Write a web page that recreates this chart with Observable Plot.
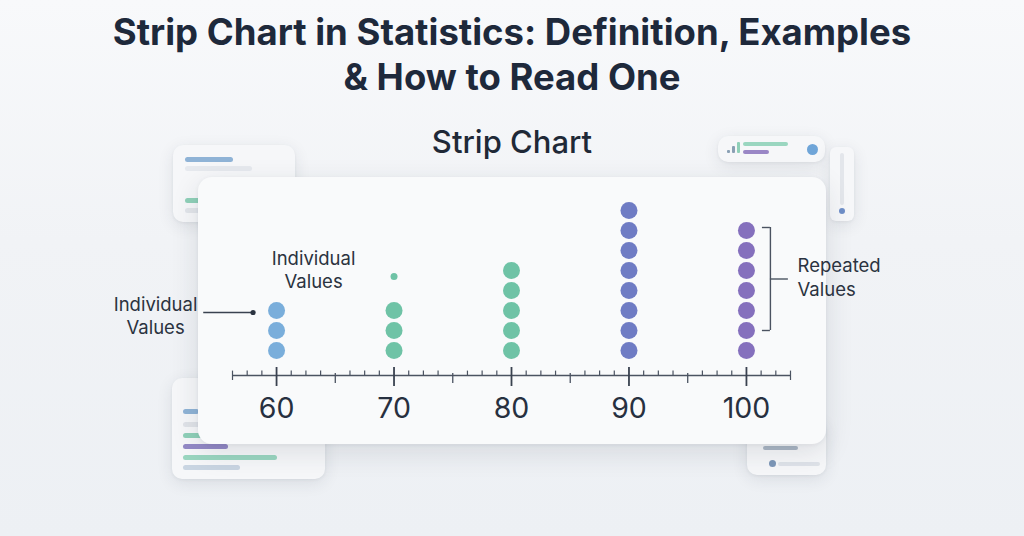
<!DOCTYPE html>
<html>
<head>
<meta charset="utf-8">
<script src="https://cdn.jsdelivr.net/npm/d3@7"></script>
<script src="https://cdn.jsdelivr.net/npm/@observablehq/plot@0.6"></script>
<style>
  html, body { margin: 0; padding: 0; }
  body {
    width: 1024px; height: 536px; overflow: hidden;
    background: linear-gradient(180deg, #f8f9fb 0%, #f1f3f6 45%, #edf0f4 100%);
    font-family: Inter, "Noto Sans", sans-serif;
    position: relative;
  }
  .title {
    position: absolute; left: 0; top: 10px; width: 1024px;
    text-align: center; font-weight: 700; font-size: 36.5px; line-height: 45px;
    color: #1e293b; margin: 0;
  }
  .subtitle {
    position: absolute; left: 0; top: 123px; width: 1024px;
    text-align: center; font-weight: 500; font-size: 31px; line-height: 38px;
    color: #1f2937; margin: 0;
  }
  .deco {
    position: absolute; background: #f6f7f9; border-radius: 10px;
    box-shadow: 0 4px 16px rgba(40,50,70,0.10), 0 1px 3px rgba(40,50,70,0.06);
  }
  .bar { position: absolute; border-radius: 3px; }
  .card {
    position: absolute; left: 198px; top: 177px; width: 628px; height: 267px;
    background: #f9fafb; border-radius: 14px;
    box-shadow: 0 8px 28px rgba(30,40,60,0.12), 0 1px 4px rgba(30,40,60,0.06);
  }
  #chart { position: absolute; left: 0; top: 190px; }
</style>
</head>
<body>
<div class="title">Strip Chart in Statistics: Definition, Examples<br>&amp; How to Read One</div>
<div class="subtitle">Strip Chart</div>

<!-- decorative background cards -->
<div class="deco" style="left:173px;top:145px;width:122px;height:77px;">
  <div class="bar" style="left:12px;top:12px;width:48px;height:5px;background:#8fb3d6;"></div>
  <div class="bar" style="left:12px;top:21px;width:67px;height:5px;background:#e6e9ee;"></div>
  <div class="bar" style="left:12px;top:53px;width:30px;height:5px;background:#8fd0b8;"></div>
  <div class="bar" style="left:12px;top:63px;width:30px;height:5px;background:#e2e5ea;"></div>
</div>
<div class="deco" style="left:718px;top:136px;width:107px;height:26px;">
  <div class="bar" style="left:9px;top:14px;width:3px;height:3px;background:#8aa0b4;border-radius:1px;"></div>
  <div class="bar" style="left:14px;top:10px;width:3px;height:7px;background:#8aa0b4;border-radius:1px;"></div>
  <div class="bar" style="left:19px;top:6px;width:3px;height:11px;background:#8fd0b8;border-radius:1px;"></div>
  <div class="bar" style="left:25px;top:6px;width:45px;height:4px;background:#9ad6c0;"></div>
  <div class="bar" style="left:25px;top:14px;width:26px;height:4px;background:#9a87c6;"></div>
  <div class="bar" style="left:89px;top:8px;width:11px;height:11px;background:#6fa5d8;border-radius:50%;"></div>
</div>
<div class="deco" style="left:830px;top:147px;width:24px;height:74px;border-radius:6px;">
  <div class="bar" style="left:10px;top:6px;width:4px;height:52px;background:#e3e6eb;"></div>
  <div class="bar" style="left:9px;top:61px;width:6px;height:6px;background:#6f8fc8;border-radius:50%;"></div>
</div>
<div class="deco" style="left:172px;top:378px;width:153px;height:101px;">
  <div class="bar" style="left:11px;top:31px;width:16px;height:5px;background:#8fb3d6;"></div>
  <div class="bar" style="left:11px;top:44px;width:20px;height:5px;background:#e0e3e8;"></div>
  <div class="bar" style="left:11px;top:55px;width:20px;height:5px;background:#8fd0b8;"></div>
  <div class="bar" style="left:11px;top:66px;width:45px;height:5px;background:#9389c6;"></div>
  <div class="bar" style="left:11px;top:77px;width:94px;height:5px;background:#9ad6c0;"></div>
  <div class="bar" style="left:11px;top:87px;width:57px;height:5px;background:#c9d5e2;"></div>
</div>
<div class="deco" style="left:747px;top:420px;width:79px;height:55px;">
  <div class="bar" style="left:16px;top:26px;width:35px;height:4px;background:#aab6c4;"></div>
  <div class="bar" style="left:22px;top:40px;width:7px;height:7px;background:#7d97b8;border-radius:50%;"></div>
  <div class="bar" style="left:31px;top:42px;width:42px;height:4px;background:#dfe3e9;"></div>
</div>

<div class="card"></div>
<div id="chart"></div>

<script>
// ---- data ----
const values = [60, 70, 80, 90, 100];
const counts = [3, 3, 5, 8, 7];
const colors = ["#7aaedb", "#6fc3a6", "#6fc3a6", "#6f7cc4", "#8570bd"];
const strayValues = [70];
const strayLevels = [3.7];
const tickLabels = ["60", "70", "80", "90", "100"];
const majorTicks = [60, 70, 80, 90, 100];
const midTicks = [65, 75, 85, 95];
const axisExtent = [56.25, 103.75];
const minorStep = 1.25;
const annotations = ["Individual\nValues", "Individual\nValues", "Repeated\nValues"];

// ---- build tables ----
const dots = [];
values.forEach((v, i) => {
  for (let k = 0; k < counts[i]; k++) dots.push({value: v, level: k, color: colors[i]});
});
const stray = strayValues.map((v, i) => ({value: v, level: strayLevels[i], color: colors[values.indexOf(v)]}));
const minorTicks = d3.range(axisExtent[0], axisExtent[1] + 0.001, minorStep)
  .filter(t => !majorTicks.includes(t) && !midTicks.includes(t));
const endTicks = axisExtent;

// ---- layout (in scale units) ----
const L = {
  axis: -1.25, majorTop: -0.85, majorBot: -1.8, midTop: -1.15, midBot: -1.65,
  minorTop: -1.03, endBot: -1.5, label: -2.9,
  leftText: {x: 49.7, y: 1.78}, leader: {x1: 53.8, x2: 58.0, y: 1.9},
  topText: {x: 63.15, y: 4.08},
  bracket: {x: 102.04, xin: 101.36, xout: 103.57, top: 6.15, bot: 1.0},
  rightText: {x: 104.35, y: 3.7}
};
const ink = "#2b3340";
const axisInk = "#4b5361";
const annFont = 18.5;

const chart = Plot.plot({
  width: 1024, height: 250,
  marginLeft: 0, marginRight: 0, marginTop: 0, marginBottom: 0,
  x: {domain: axisExtent, range: [232, 790], axis: null},
  y: {domain: [-4.5, 8], range: [250, 0], axis: null},
  style: {background: "transparent", overflow: "visible", fontFamily: "Inter, 'Noto Sans', sans-serif"},
  marks: [
    // axis
    Plot.ruleY([L.axis], {x1: axisExtent[0], x2: axisExtent[1], stroke: axisInk, strokeWidth: 1.6}),
    Plot.ruleX(minorTicks, {x: d => d, y1: L.axis, y2: L.minorTop, stroke: axisInk, strokeWidth: 1.2}),
    Plot.ruleX(midTicks, {x: d => d, y1: L.midTop, y2: L.midBot, stroke: axisInk, strokeWidth: 1.3}),
    Plot.ruleX(endTicks, {x: d => d, y1: L.axis, y2: L.endBot, stroke: axisInk, strokeWidth: 1.2}),
    Plot.ruleX(majorTicks, {x: d => d, y1: L.majorTop, y2: L.majorBot, stroke: "#3a4250", strokeWidth: 1.8}),
    Plot.text(majorTicks, {x: d => d, y: L.label, text: (d, i) => tickLabels[i], fontSize: 28.5, fill: "#273040", fontWeight: 400}),
    // strip dots
    Plot.dot(dots, {x: "value", y: "level", r: 8.5, fill: d => d.color, stroke: "none"}),
    Plot.dot(stray, {x: "value", y: "level", r: 3.5, fill: d => d.color, stroke: "none"}),
    // annotations
    Plot.text([annotations[0]], {x: L.leftText.x, y: L.leftText.y, text: d => d, fontSize: annFont, lineHeight: 1.27, fill: ink}),
    Plot.ruleY([L.leader.y], {x1: L.leader.x1, x2: L.leader.x2, stroke: "#3a4250", strokeWidth: 1.3}),
    Plot.dot([L.leader.x2], {x: d => d, y: L.leader.y, r: 2.6, fill: "#2b3340"}),
    Plot.text([annotations[1]], {x: L.topText.x, y: L.topText.y, text: d => d, fontSize: annFont, lineHeight: 1.27, fill: ink}),
    Plot.ruleX([L.bracket.x], {y1: L.bracket.bot, y2: L.bracket.top, stroke: "#4b5361", strokeWidth: 1.4}),
    Plot.ruleY([L.bracket.top, L.bracket.bot], {x1: L.bracket.xin, x2: L.bracket.x, stroke: "#4b5361", strokeWidth: 1.4}),
    Plot.ruleY([(L.bracket.top + L.bracket.bot) / 2], {x1: L.bracket.x, x2: L.bracket.xout, stroke: "#4b5361", strokeWidth: 1.4}),
    Plot.text([annotations[2]], {x: L.rightText.x, y: L.rightText.y, text: d => d, textAnchor: "start", fontSize: annFont, lineHeight: 1.27, fill: ink})
  ]
});
document.getElementById("chart").appendChild(chart);
</script>
</body>
</html>
